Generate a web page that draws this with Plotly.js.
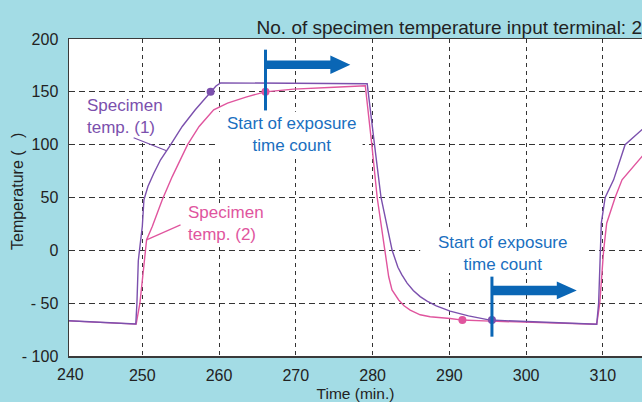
<!DOCTYPE html>
<html><head><meta charset="utf-8">
<script src="https://cdn.plot.ly/plotly-3.0.1.min.js"></script>
<style>html,body{margin:0;padding:0;background:#a3dce5;} #chart{width:642px;height:402px;}</style>
</head><body><div id="chart"></div>
<script>
// ---- data ----
const time1 = [240.45, 249.15, 249.3, 249.48, 249.69, 250.0, 250.21, 250.73, 251.5, 252.38, 253.7, 255.2, 256.9, 258.9, 259.6, 260.2, 270, 279.3, 280.25, 281.1, 282.55, 282.9, 283.3, 283.8, 284.5, 285.3, 286.2, 287.1, 288.3, 290.1, 292.5, 295.3, 300, 305, 309.2, 309.45, 309.7, 309.8, 310.3, 311.4, 312.9, 315.1, 316];
const temp1 = [-66.6, -69.7, -50, -9.8, 3.5, 22.5, 47.8, 60.4, 73, 85.7, 100, 117.2, 133, 150, 155.5, 158.5, 158.3, 157.6, 100, 50, 0, -8, -16, -23, -31, -38, -43.8, -48, -52.5, -57.5, -62, -66, -67.5, -68.5, -70, -50, 0, 25.7, 50, 66.7, 100, 114, 120];
const time2 = [240.45, 249.2, 249.69, 250.1, 250.56, 251.3, 252.6, 253.9, 255.9, 257.4, 259.3, 261.1, 263.5, 266, 269.7, 275, 279.05, 279.9, 280.6, 281.6, 282.1, 282.53, 283.4, 284.1, 284.9, 286.2, 287.5, 290.1, 291.7, 295.3, 300, 305, 309.2, 309.6, 310.1, 310.5, 311.6, 312.5, 315.1, 316];
const temp2 = [-66.8, -69.8, -50, -20, 10, 22.5, 47.8, 69.8, 100, 117.2, 133, 139.4, 145, 150, 152.6, 154.3, 155.8, 100, 50, 0, -25, -37.5, -47, -52.5, -56.5, -61, -62.8, -64.5, -66, -67, -68, -69, -70, -50, 0, 25.7, 50, 66.7, 88.8, 94];
const startTime1 = [258.9, 295.55];
const startTemp1 = [150, -66];
const startTime2 = [266.05, 291.7];
const startTemp2 = [150, -66];
const xTickVals = [250, 260, 270, 280, 290, 300, 310];
const xTickText = ['250', '260', '270', '280', '290', '300', '310'];
const yTickVals = [-100, -50, 0, 50, 100, 150, 200];
const yTickText = ['- 100', '- 50', '0', '50', '100', '150', '200'];

// ---- styling ----
const PURPLE = '#7b50ad', PINK = '#e0559e', BLUE = '#0a66b5', BLUE_TXT = '#1a6fc0';
const FONT = 'Liberation Sans, Arial, sans-serif';

const traces = [
  {x: time2, y: temp2, mode: 'lines', line: {color: PINK, width: 1.4}, hoverinfo: 'skip'},
  {x: time1, y: temp1, mode: 'lines', line: {color: PURPLE, width: 1.4}, hoverinfo: 'skip'},
  {x: startTime2, y: startTemp2, mode: 'markers', marker: {color: PINK, size: 8}, hoverinfo: 'skip'},
  {x: startTime1, y: startTemp1, mode: 'markers', marker: {color: PURPLE, size: 8}, hoverinfo: 'skip'}
];

function box(x0, x1, y0, y1) {
  return {type: 'rect', layer: 'between', xref: 'x', yref: 'y', x0, x1, y0, y1, fillcolor: 'white', line: {width: 0}};
}
function seg(x0, y0, x1, y1, color, width) {
  return {type: 'line', layer: 'above', xref: 'x', yref: 'y', x0, y0, x1, y1, line: {color, width}};
}
function arrow(xs, xb, xt, y, bodyHalf, headHalf) {
  return {type: 'path', layer: 'above', xref: 'x', yref: 'y',
     path: `M${xs},${y - bodyHalf} L${xb},${y - bodyHalf} L${xb},${y - headHalf} L${xt},${y} L${xb},${y + headHalf} L${xb},${y + bodyHalf} L${xs},${y + bodyHalf} Z`,
     fillcolor: BLUE, line: {width: 0}};
}

const shapes = [
  box(242.2, 253.7, 104.6, 144.4),
  box(255.4, 266.9, 4.2, 44.0),
  box(259.8, 278.7, 88.5, 131.1),
  box(286.2, 307.7, -21.4, 19.4),
  seg(248.87, 106.5, 253.16, 94.2, PURPLE, 1.2),
  seg(254.98, 24.1, 250.55, 9.9, PINK, 1.2),
  seg(266.05, 189.9, 266.05, 132.4, BLUE, 3),
  seg(295.55, -24.9, 295.55, -81.7, BLUE, 3),
  arrow(266.05, 274.5, 277.1, 175.65, 4.1, 8.8),
  arrow(295.55, 304.0, 306.6, -38.0, 4.5, 8.4)
];

function txt(x, y, text, color, anchor) {
  return {x, y, xref: 'x', yref: 'y', text, showarrow: false, xanchor: anchor, yanchor: 'middle',
          align: anchor === 'left' ? 'left' : 'center',
          font: {family: FONT, size: 17, color}};
}
const annotations = [
  txt(242.5, 126.4, 'Specimen<br>temp. (1)', PURPLE, 'left'),
  txt(255.75, 25.4, 'Specimen<br>temp. (2)', PINK, 'left'),
  txt(269.4, 109.8, 'Start of exposure<br>time count', BLUE_TXT, 'center'),
  txt(296.9, -2.9, 'Start of exposure<br>time count', BLUE_TXT, 'center'),
  {x: 0, y: 0, xref: 'paper', yref: 'paper', text: '240', showarrow: false, xanchor: 'center', yanchor: 'top',
   xshift: 1, yshift: -8, font: {family: FONT, size: 16, color: '#222'}},
  {x: -0.0898, y: 0.519, xref: 'paper', yref: 'paper', text: 'Temperature (\u2002\u00a0)', textangle: -90,
   showarrow: false, xanchor: 'center', yanchor: 'middle', font: {family: FONT, size: 16, color: '#222'}}
];

const layout = {
  width: 642, height: 402,
  margin: {l: 68.5, r: 0, t: 39.3, b: 46, pad: 0},
  paper_bgcolor: '#a3dce5', plot_bgcolor: 'white',
  showlegend: false,
  font: {family: FONT, size: 16, color: '#222'},
  title: {text: 'No. of specimen temperature input terminal: 2', x: 1, xanchor: 'right', xref: 'container',
          y: 0.932, yanchor: 'middle', yref: 'container', font: {family: FONT, size: 19, color: '#222'}},
  xaxis: {range: [240.45, 315.1], tickmode: 'array', tickvals: xTickVals, ticktext: xTickText, ticks: '',
          ticklabelstandoff: 4, showgrid: true, gridcolor: '#333', gridwidth: 1, griddash: '4px,4px',
          showline: true, linecolor: '#3a3a3a', linewidth: 1.5, mirror: true, zeroline: false,
          tickfont: {family: FONT, size: 16, color: '#222'},
          title: {text: 'Time (min.)', standoff: 10, font: {family: FONT, size: 15.5, color: '#222'}}},
  yaxis: {range: [-100, 200], tickmode: 'array', tickvals: yTickVals, ticktext: yTickText, ticks: '',
          ticklabelstandoff: 6, showgrid: true, gridcolor: '#333', gridwidth: 1, griddash: '6px,4px',
          showline: true, linecolor: '#3a3a3a', linewidth: 1.5, zeroline: false,
          tickfont: {family: FONT, size: 16, color: '#222'}},
  shapes, annotations
};

Plotly.newPlot('chart', traces, layout, {displayModeBar: false, staticPlot: true});
</script></body></html>
